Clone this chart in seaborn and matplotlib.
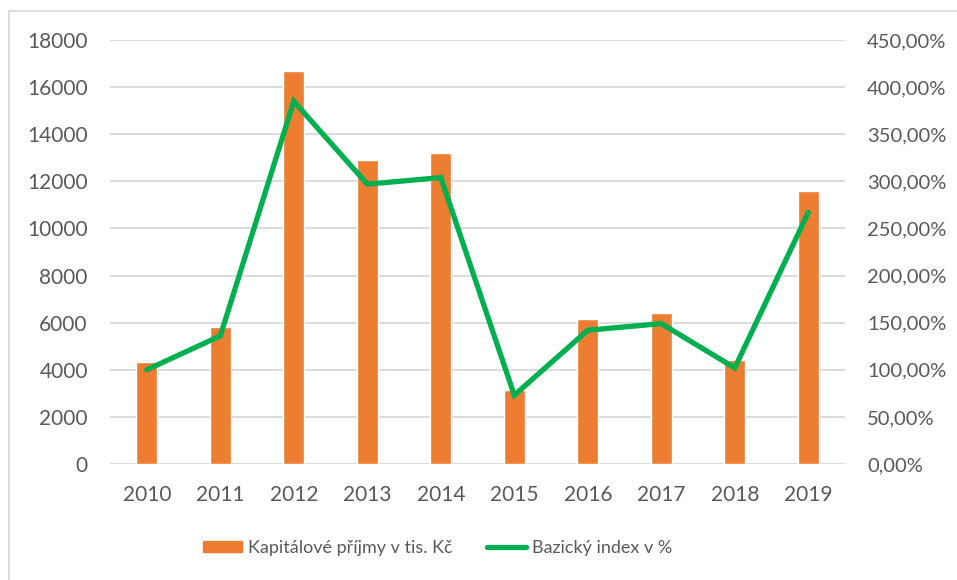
import numpy as np
import pandas as pd
import matplotlib
matplotlib.use("Agg")
import matplotlib.pyplot as plt
import seaborn as sns
from matplotlib.ticker import FuncFormatter, MultipleLocator
from matplotlib.lines import Line2D
from matplotlib.patches import Patch

years = ["2010", "2011", "2012", "2013", "2014", "2015", "2016", "2017", "2018", "2019"]
prijmy = [4340, 5830, 16700, 12900, 13200, 3140, 6140, 6400, 4410, 11590]
index_pct = [100, 136, 385, 297, 304, 73, 142, 149, 102, 267]

bar_color = "#ED7D31"
line_color = "#00B050"
text_color = "#595959"
grid_color = "#D9D9D9"

sns.set_style("white")
plt.rcParams["font.family"] = ["Lato", "DejaVu Sans"]

df = pd.DataFrame({"rok": years, "prijmy": prijmy, "index": index_pct})

fig = plt.figure(figsize=(9.57, 5.8), dpi=100)
ax = fig.add_axes([0.115, 0.2, 0.768, 0.731])

sns.barplot(data=df, x="rok", y="prijmy", color=bar_color, width=0.29,
            saturation=1, ax=ax, zorder=2)
ax.set_ylim(0, 18000)
ax.set_xlim(-0.5, len(years) - 0.5)
ax.yaxis.set_major_locator(MultipleLocator(2000))
ax.grid(axis="y", color=grid_color, linewidth=1.3, zorder=0)
ax.set_axisbelow(True)
for s in ax.spines.values():
    s.set_visible(False)
ax.set_xlabel("")
ax.set_ylabel("")
ax.tick_params(axis="both", length=0, labelsize=15, labelcolor=text_color)
ax.tick_params(axis="y", pad=16)
ax.tick_params(axis="x", pad=15)

ax2 = ax.twinx()
sns.lineplot(x=np.arange(len(years)), y=df["index"], color=line_color,
             linewidth=3.8, ax=ax2, solid_capstyle="round", solid_joinstyle="miter")
ax2.set_ylim(0, 450)
ax2.yaxis.set_major_locator(MultipleLocator(50))
ax2.yaxis.set_major_formatter(FuncFormatter(lambda v, p: f"{v:.2f}".replace(".", ",") + "%"))
for s in ax2.spines.values():
    s.set_visible(False)
ax2.set_ylabel("")
ax2.tick_params(axis="y", length=0, labelsize=14.5, labelcolor=text_color, pad=16)

handles = [Patch(color=bar_color, label="Kapitálové příjmy v tis. Kč"),
           Line2D([0], [0], color=line_color, linewidth=3.8, solid_capstyle="round",
                  label="Bazický index v %")]
fig.legend(handles=handles, loc="center", bbox_to_anchor=(0.457, 0.055), ncol=2,
           frameon=False, fontsize=13, labelcolor=text_color,
           handlelength=2.2, handleheight=0.6, columnspacing=1.9, handletextpad=0.3)

fig.add_artist(Line2D([9 / 957, 9 / 957], [0, 1 - 11 / 580], color=grid_color,
                      linewidth=1.2, transform=fig.transFigure))
fig.add_artist(Line2D([9 / 957, 1], [1 - 11 / 580, 1 - 11 / 580], color=grid_color,
                      linewidth=1.2, transform=fig.transFigure))

fig.savefig("out.png", dpi=100)
